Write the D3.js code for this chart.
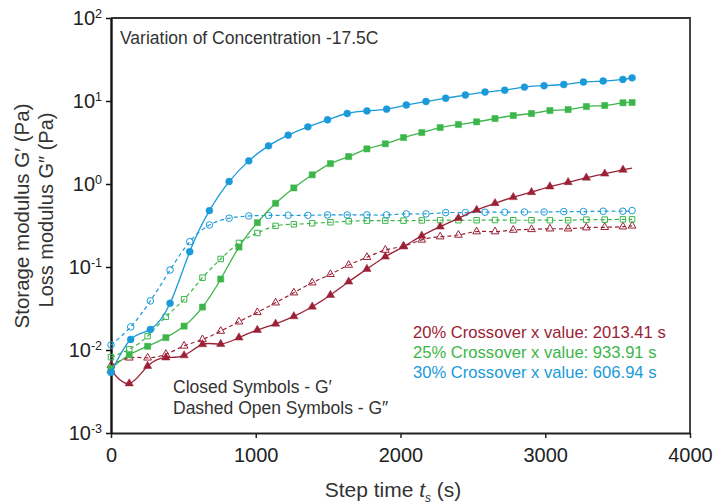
<!DOCTYPE html>
<html>
<head>
<meta charset="utf-8">
<script src="https://cdn.jsdelivr.net/npm/d3@7"></script>
<style>
  body { margin: 0; background: #fff; }
  svg { display: block; font-family: "Liberation Sans", Arial, sans-serif; }
</style>
</head>
<body>
<div id="chart"></div>
<script>
const FRAME_WIDTH = 728;
const FRAME_HEIGHT = 504;
const MARGINS = {left: 111, right: 38, top: 18, bottom: 71};

// step times (s)
const TIMES_30 = [0, 136, 272, 408, 544, 680, 816, 952, 1088, 1224, 1360, 1496, 1632, 1768,
  1904, 2040, 2176, 2312, 2448, 2584, 2720, 2856, 2992, 3128, 3264, 3400, 3536, 3600];
const TIMES_20_25 = [0, 126, 253, 379, 505, 632, 758, 884, 1011, 1137, 1263, 1390, 1516, 1642,
  1768, 1895, 2021, 2147, 2274, 2400, 2526, 2653, 2779, 2905, 3032, 3158, 3284, 3411, 3537, 3600];

// G' (Pa)
const G1_20 = [0.0057, 0.00395, 0.0064, 0.0081, 0.0086, 0.0117, 0.0118, 0.0141, 0.0174, 0.0207,
  0.0254, 0.0332, 0.0459, 0.0665, 0.0946, 0.133, 0.176, 0.237, 0.306, 0.387, 0.487, 0.586,
  0.693, 0.796, 0.931, 1.05, 1.19, 1.33, 1.48, 1.55];
const G1_25 = [0.0060, 0.00875, 0.0111, 0.0141, 0.0194, 0.0329, 0.0716, 0.174, 0.342, 0.586,
  0.897, 1.29, 1.76, 2.14, 2.65, 3.05, 3.63, 4.17, 4.79, 5.21, 5.61, 6.15, 6.68, 7.07, 7.68,
  7.89, 8.58, 8.82, 9.51, 9.59];
const G1_30 = [0.00537, 0.0134, 0.0177, 0.0365, 0.153, 0.478, 1.07, 1.90, 2.88, 3.88, 4.88,
  5.93, 7.07, 7.6, 7.98, 8.93, 9.86, 10.8, 11.8, 12.8, 13.5, 14.7, 15.3, 15.8, 16.9, 17.4,
  18.2, 19.0];

// G'' (Pa)
const G2_20 = [0.0065, 0.00805, 0.00805, 0.0089, 0.0112, 0.0134, 0.0169, 0.0219, 0.0284,
  0.0371, 0.049, 0.0647, 0.0817, 0.1057, 0.131, 0.160, 0.179, 0.212, 0.232, 0.243, 0.267,
  0.267, 0.279, 0.284, 0.289, 0.289, 0.298, 0.301, 0.306, 0.313];
const G2_25 = [0.0082, 0.0102, 0.0147, 0.0251, 0.0408, 0.0743, 0.125, 0.195, 0.257, 0.313,
  0.327, 0.337, 0.346, 0.356, 0.362, 0.362, 0.362, 0.364, 0.366, 0.366, 0.366, 0.368, 0.366,
  0.366, 0.366, 0.366, 0.372, 0.372, 0.375, 0.375];
const G2_30 = [0.0115, 0.019, 0.039, 0.092, 0.202, 0.321, 0.387, 0.412, 0.418, 0.42, 0.42,
  0.424, 0.424, 0.424, 0.424, 0.436, 0.436, 0.452, 0.452, 0.457, 0.457, 0.46, 0.46, 0.465,
  0.465, 0.47, 0.47, 0.478];

const X_TICKS = [0, 1000, 2000, 3000, 4000];
const Y_TICKS = [1e-3, 1e-2, 1e-1, 1e0, 1e1, 1e2];
const Y_EXPONENTS = ["-3", "-2", "-1", "0", "1", "2"];

const CROSSOVER_LABELS = ["20% Crossover x value: 2013.41 s",
  "25% Crossover x value: 933.91 s",
  "30% Crossover x value: 606.94 s"];

const RED = "#9b2236";
const GREEN = "#3cb64a";
const BLUE = "#1a9ad8";

const SERIES = [
  {t: TIMES_20_25, v: G2_20, color: RED, shape: d3.symbolTriangle, size: 26, open: true},
  {t: TIMES_20_25, v: G2_25, color: GREEN, shape: d3.symbolSquare, size: 30, open: true},
  {t: TIMES_30, v: G2_30, color: BLUE, shape: d3.symbolCircle, size: 34, open: true},
  {t: TIMES_20_25, v: G1_20, color: RED, shape: d3.symbolTriangle, size: 30, open: false, skipLast: true},
  {t: TIMES_20_25, v: G1_25, color: GREEN, shape: d3.symbolSquare, size: 38, open: false},
  {t: TIMES_30, v: G1_30, color: BLUE, shape: d3.symbolCircle, size: 38, open: false}
];

const VIS_WIDTH = FRAME_WIDTH - MARGINS.left - MARGINS.right;
const VIS_HEIGHT = FRAME_HEIGHT - MARGINS.top - MARGINS.bottom;

const FRAME = d3.select("#chart")
  .append("svg")
    .attr("width", FRAME_WIDTH)
    .attr("height", FRAME_HEIGHT);

const X_SCALE = d3.scaleLinear()
  .domain([0, 4000])
  .range([MARGINS.left, MARGINS.left + VIS_WIDTH]);

const Y_SCALE = d3.scaleLog()
  .domain([1e-3, 1e2])
  .range([MARGINS.top + VIS_HEIGHT, MARGINS.top]);

// frame (top + right)
FRAME.append("path")
  .attr("d", "M" + MARGINS.left + "," + MARGINS.top + "H" + (MARGINS.left + VIS_WIDTH) + "V" + (MARGINS.top + VIS_HEIGHT))
  .attr("fill", "none")
  .attr("stroke", "#333")
  .attr("stroke-width", 1.8);

// x axis
const xAxis = FRAME.append("g")
  .attr("transform", "translate(0," + (MARGINS.top + VIS_HEIGHT) + ")")
  .call(d3.axisBottom(X_SCALE).tickValues(X_TICKS).tickSize(5).tickSizeOuter(0).tickFormat(d3.format("d")));
xAxis.select(".domain").attr("stroke", "#222").attr("stroke-width", 2.2);
xAxis.selectAll(".tick line").attr("stroke", "#222").attr("stroke-width", 1.5);
xAxis.selectAll(".tick text")
  .attr("font-size", 20)
  .attr("font-family", "Liberation Sans, Arial, sans-serif")
  .attr("fill", "#222")
  .attr("dy", null)
  .attr("y", 29);

// y axis
const yAxis = FRAME.append("g")
  .attr("transform", "translate(" + MARGINS.left + ",0)")
  .call(d3.axisLeft(Y_SCALE).tickValues(Y_TICKS).tickSize(5).tickSizeOuter(0).tickFormat(""));
yAxis.select(".domain").attr("stroke", "#111").attr("stroke-width", 2.4);
yAxis.selectAll(".tick line").attr("stroke", "#111").attr("stroke-width", 1.5);

const yLabels = FRAME.append("g")
  .selectAll("text")
  .data(Y_TICKS)
  .enter()
  .append("text")
    .attr("x", 102)
    .attr("y", (d) => Y_SCALE(d) + 7)
    .attr("text-anchor", "end")
    .attr("font-size", 20)
    .attr("fill", "#222");
yLabels.append("tspan").text("10");
yLabels.append("tspan")
  .attr("dy", -7)
  .attr("font-size", 12.5)
  .text((d, i) => Y_EXPONENTS[i]);

// series
const PLOT = FRAME.append("g");

SERIES.forEach((s) => {
  const pts = s.t.map((t, i) => ({t: t, v: s.v[i]}));
  const line = d3.line()
    .x((d) => X_SCALE(d.t))
    .y((d) => Y_SCALE(d.v))
    .curve(d3.curveNatural);

  PLOT.append("path")
    .datum(pts)
    .attr("d", line)
    .attr("fill", "none")
    .attr("stroke", s.color)
    .attr("stroke-width", s.open ? 1.2 : 1.3)
    .attr("stroke-dasharray", s.open ? "4,3" : null);

  const markPts = s.skipLast ? pts.slice(0, -1) : pts;
  PLOT.selectAll(null)
    .data(markPts)
    .enter()
    .append("path")
      .attr("transform", (d) => "translate(" + X_SCALE(d.t) + "," + Y_SCALE(d.v) + ")")
      .attr("d", d3.symbol().type(s.shape).size(s.size))
      .attr("fill", s.open ? "none" : s.color)
      .attr("stroke", s.color)
      .attr("stroke-width", s.open ? 1 : 0.5);
});

// texts
FRAME.append("text")
  .attr("x", 120)
  .attr("y", 44)
  .attr("font-size", 17.5)
  .attr("fill", "#333")
  .text("Variation of Concentration -17.5C");

FRAME.append("text")
  .attr("x", 173)
  .attr("y", 393)
  .attr("font-size", 17.5)
  .attr("fill", "#333")
  .text("Closed Symbols - G\u2032");

FRAME.append("text")
  .attr("x", 173)
  .attr("y", 414)
  .attr("font-size", 17.5)
  .attr("fill", "#333")
  .text("Dashed Open Symbols - G\u2033");

FRAME.append("g")
  .selectAll("text")
  .data(CROSSOVER_LABELS)
  .enter()
  .append("text")
    .attr("x", 413)
    .attr("y", (d, i) => 337.5 + i * 20)
    .attr("font-size", 16.6)
    .attr("fill", (d, i) => [RED, GREEN, BLUE][i])
    .text((d) => d);

// axis titles
const xTitle = FRAME.append("text")
  .attr("x", 393)
  .attr("y", 497)
  .attr("text-anchor", "middle")
  .attr("font-size", 21)
  .attr("fill", "#333");
xTitle.append("tspan").text("Step time ");
xTitle.append("tspan").attr("font-style", "italic").text("t");
xTitle.append("tspan").attr("font-style", "italic").attr("font-size", 12).attr("dy", 5).text("s");
xTitle.append("tspan").attr("dy", -5).text(" (s)");

FRAME.append("text")
  .attr("transform", "translate(29,216) rotate(-90)")
  .attr("text-anchor", "middle")
  .attr("font-size", 20.5)
  .attr("fill", "#333")
  .text("Storage modulus G\u2032 (Pa)");

FRAME.append("text")
  .attr("transform", "translate(53,210) rotate(-90)")
  .attr("text-anchor", "middle")
  .attr("font-size", 20)
  .attr("fill", "#333")
  .text("Loss modulus G\u2033 (Pa)");
</script>
</body>
</html>
